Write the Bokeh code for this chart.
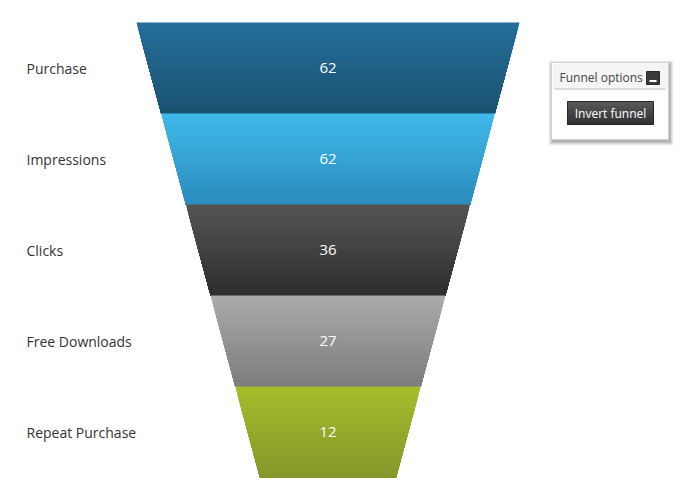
from bokeh.plotting import figure
from bokeh.models import Range1d
from bokeh.embed import file_html
from bokeh.resources import INLINE
from bokeh.core.properties import value

categories = ["Purchase", "Impressions", "Clicks", "Free Downloads", "Repeat Purchase"]
values = [62, 62, 36, 27, 12]
top_colors = ["#246f9b", "#3fb9ea", "#545454", "#ababab", "#a6bd2b"]
bottom_colors = ["#1a5170", "#2a8cbc", "#2e2e2e", "#7c7c7c", "#84962a"]

W, H = 700, 500
p = figure(width=W, height=H, output_backend="svg", toolbar_location=None,
           x_range=Range1d(0, W), y_range=Range1d(H, 0), min_border=0)
p.axis.visible = False
p.grid.visible = False
p.outline_line_color = None
p.background_fill_color = "white"
p.border_fill_color = "white"

# funnel geometry (layout)
cx = 327.5
y_top, y_bot = 22.0, 477.0
hw_top, hw_bot = 191.5, 68.0
n = len(categories)
seg_h = (y_bot - y_top) / n


def hw(y):
    t = (y - y_top) / (y_bot - y_top)
    return hw_top + (hw_bot - hw_top) * t


def hex2rgb(h):
    h = h.lstrip("#")
    return tuple(int(h[i:i + 2], 16) for i in (0, 2, 4))


def mix(c1, c2, t):
    a, b = hex2rgb(c1), hex2rgb(c2)
    return "#%02x%02x%02x" % tuple(round(a[i] + (b[i] - a[i]) * t) for i in range(3))


# gradient: each strip runs from its top to the segment bottom, drawn top-down,
# so that later strips cover earlier ones with no seams
xs, ys, cols = [], [], []
strips = 30
for i in range(n):
    s0 = y_top + i * seg_h
    yb = s0 + seg_h
    for k in range(strips):
        ya = s0 + seg_h * k / strips
        xs.append([cx - hw(ya), cx + hw(ya), cx + hw(yb), cx - hw(yb)])
        ys.append([ya, ya, yb, yb])
        cols.append(mix(top_colors[i], bottom_colors[i], (k + 0.5) / strips))
p.patches(xs, ys, fill_color=cols, line_color=None)

centers = [y_top + (i + 0.5) * seg_h for i in range(n)]
p.text(x=[26] * n, y=centers, text=categories, text_font=value("Open Sans"),
       text_font_size="14px", text_color="#333333", text_baseline="middle", text_align="left")
p.text(x=[cx] * n, y=centers, text=[str(v) for v in values], text_font=value("Open Sans"),
       text_font_size="15px", text_color="white", text_baseline="middle", text_align="center")

# Funnel options panel
bx0, bx1, by0, by1 = 551, 668, 62, 139
for d, a in [(4, 0.05), (3, 0.07), (2, 0.09), (1, 0.12)]:
    p.quad(left=bx0 - d + 1, right=bx1 + d + 1, top=by0 - d + 2, bottom=by1 + d + 2,
           fill_color="black", fill_alpha=a, line_color=None)
p.quad(left=bx0, right=bx1, top=by0, bottom=by1, fill_color="white", line_color="#d2d2d2", line_width=1)
p.quad(left=bx0 + 1, right=bx1 - 1, top=by0 + 1, bottom=88, fill_color="#f5f5f5", line_color=None)
p.segment(x0=[bx0 + 3], y0=[88.5], x1=[bx1 - 3], y1=[88.5], line_color="#bdbdbd", line_width=1)
p.text(x=[559], y=[76.5], text=["Funnel options"], text_font=value("Open Sans"),
       text_font_size="12px", text_color="#444444", text_baseline="middle", text_align="left")
p.quad(left=646, right=659, top=71, bottom=84, fill_color="#3a3a3a", line_color="#2a2a2a")
p.segment(x0=[649], y0=[80.5], x1=[656], y1=[80.5], line_color="white", line_width=2)

# Invert funnel button (gradient)
btn_top, btn_bot = 101, 124
bs = 12
bxs, bys, bcs = [], [], []
for k in range(bs):
    ya = btn_top + (btn_bot - btn_top) * k / bs
    bxs.append([567, 653, 653, 567])
    bys.append([ya, ya, btn_bot, btn_bot])
    bcs.append(mix("#5a5a5a", "#303030", (k + 0.5) / bs))
p.patches(bxs, bys, fill_color=bcs, line_color=None)
p.quad(left=567, right=653, top=btn_top, bottom=btn_bot, fill_color=None, line_color="#262626", line_width=1)
p.text(x=[610], y=[112.5], text=["Invert funnel"], text_font=value("Open Sans"),
       text_font_size="12px", text_color="white", text_baseline="middle", text_align="center")

open("out.html", "w").write(file_html(p, INLINE))
